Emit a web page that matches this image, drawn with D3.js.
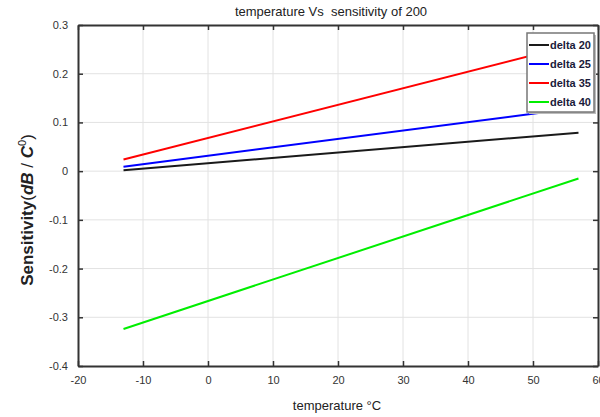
<!DOCTYPE html>
<html><head><meta charset="utf-8">
<script src="https://d3js.org/d3.v7.min.js"></script>
<style>body{margin:0;background:#fff}svg{display:block}</style>
</head><body><svg id="c" width="600" height="417"></svg>
<script>
const temperature = [-13, 57];
const delta20 = [0.002, 0.079];
const delta25 = [0.009, 0.130];
const delta35 = [0.024, 0.262];
const delta40 = [-0.324, -0.015];
const seriesNames = ["delta 20", "delta 25", "delta 35", "delta 40"];
const seriesColors = ["#1a1a1a", "#0000ff", "#ff0000", "#00ee00"];
const xTicks = [-20, -10, 0, 10, 20, 30, 40, 50, 60];
const yTicks = [-0.4, -0.3, -0.2, -0.1, 0, 0.1, 0.2, 0.3];
const title = "temperature Vs  sensitivity of 200";
const xLabel = "temperature °C";

const allSeries = [delta20, delta25, delta35, delta40];
const font = "'Liberation Sans Narrow','Liberation Sans',Arial,sans-serif";
const svg = d3.select("#c");
const L = 78, R = 598, T = 25, B = 366;
const x = d3.scaleLinear().domain([-20, 60]).range([L, R]);
const y = d3.scaleLinear().domain([-0.4, 0.3]).range([B, T]);

// grid
svg.append("g").selectAll("line").data(xTicks.slice(1, -1)).join("line")
  .attr("x1", d => x(d)).attr("x2", d => x(d)).attr("y1", T).attr("y2", B)
  .attr("stroke", "#e2e2e2").attr("stroke-width", 1);
svg.append("g").selectAll("line").data(yTicks.slice(1, -1)).join("line")
  .attr("y1", d => y(d)).attr("y2", d => y(d)).attr("x1", L).attr("x2", R)
  .attr("stroke", "#e2e2e2").attr("stroke-width", 1);

// lines
const line = d3.line().x((d, i) => x(temperature[i])).y(d => y(d));
svg.append("g").selectAll("path").data(allSeries).join("path")
  .attr("d", d => line(d)).attr("fill", "none")
  .attr("stroke", (d, i) => seriesColors[i]).attr("stroke-width", 2);

// axes
const fmt = d => d === 0 ? "0" : String(d);
const xa = svg.append("g").attr("transform", `translate(0,${B})`)
  .call(d3.axisBottom(x).tickValues(xTicks).tickFormat(fmt).tickSizeInner(-5).tickSizeOuter(0).tickPadding(10));
const xa2 = svg.append("g").attr("transform", `translate(0,${T})`)
  .call(d3.axisTop(x).tickValues(xTicks).tickFormat("").tickSizeInner(-5).tickSizeOuter(0));
const ya = svg.append("g").attr("transform", `translate(${L},0)`)
  .call(d3.axisLeft(y).tickValues(yTicks).tickFormat(fmt).tickSizeInner(-5).tickSizeOuter(0).tickPadding(10));
const ya2 = svg.append("g").attr("transform", `translate(${R},0)`)
  .call(d3.axisRight(y).tickValues(yTicks).tickFormat("").tickSizeInner(-5).tickSizeOuter(0));
[xa, xa2, ya, ya2].forEach(g => {
  g.select(".domain").attr("stroke", "#333").attr("stroke-width", 2);
  g.selectAll(".tick line").attr("stroke", "#333").attr("stroke-width", 1.5);
  g.selectAll("text").attr("fill", "#333").style("font-family", font).style("font-size", "11px");
});

// title & labels
svg.append("text").attr("x", 331).attr("y", 16).attr("text-anchor", "middle")
  .style("font-family", font).style("font-size", "13px").style("white-space", "pre")
  .attr("fill", "#222").text(title);
svg.append("text").attr("x", 337).attr("y", 410).attr("text-anchor", "middle")
  .style("font-family", font).style("font-size", "13px").attr("fill", "#222").text(xLabel);
const yl = svg.append("text").attr("transform", "translate(33,210) rotate(-90)")
  .attr("text-anchor", "middle").style("font-family", "'Liberation Sans',Arial,sans-serif")
  .style("font-size", "17px").attr("fill", "#222");
yl.append("tspan").style("font-weight", "bold").text("Sensitivity");
yl.append("tspan").text("(");
yl.append("tspan").style("font-style", "italic").style("font-weight", "bold").text("dB");
yl.append("tspan").text(" / ");
yl.append("tspan").style("font-style", "italic").style("font-weight", "bold").text("C");
yl.append("tspan").attr("dy", -7).style("font-size", "11px").text("0");
yl.append("tspan").attr("dy", 7).text(")");

// legend
const lg = svg.append("g");
lg.append("rect").attr("x", 529).attr("y", 35).attr("width", 67).attr("height", 79).attr("fill", "#bbb");
lg.append("rect").attr("x", 527).attr("y", 33).attr("width", 67).attr("height", 79)
  .attr("fill", "#fff").attr("stroke", "#777").attr("stroke-width", 1.5);
const items = lg.selectAll("g").data(seriesNames).join("g")
  .attr("transform", (d, i) => `translate(0,${45 + i * 19})`);
items.append("line").attr("x1", 529).attr("x2", 549).attr("y1", 0).attr("y2", 0)
  .attr("stroke", (d, i) => seriesColors[i]).attr("stroke-width", 2);
items.append("text").attr("x", 550).attr("y", 4).text(d => d)
  .style("font-family", font).style("font-size", "11px").style("font-weight", "bold").attr("fill", "#1a1a3a");
</script></body></html>
